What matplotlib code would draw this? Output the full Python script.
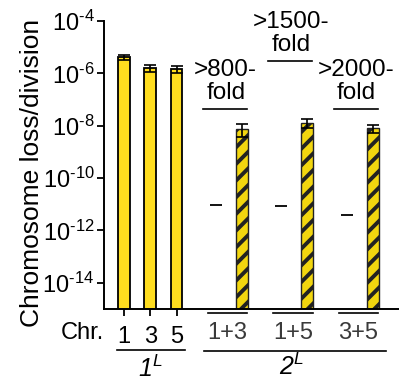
import matplotlib
matplotlib.use("Agg")
import matplotlib.pyplot as plt
import matplotlib.transforms as mtransforms
from matplotlib.lines import Line2D
import numpy as np

plt.rcParams['font.family'] = ['Liberation Sans', 'DejaVu Sans']
plt.rcParams['mathtext.fontset'] = 'custom'
plt.rcParams['mathtext.rm'] = 'Liberation Sans'
plt.rcParams['mathtext.it'] = 'Liberation Sans:italic'
plt.rcParams['mathtext.sf'] = 'Liberation Sans:italic'
plt.rcParams['hatch.linewidth'] = 2.8
plt.rcParams['hatch.color'] = 'black'

# ---- data ----
chr1_labels = ['1', '3', '5']
chr1_values = [4.1e-6, 1.55e-6, 1.45e-6]
chr1_err = [0.9e-6, 0.45e-6, 0.45e-6]

pair_labels = ['1+3', '1+5', '3+5']
pair_bound = [9.5e-12, 8.7e-12, 4.0e-12]          # dash marks (upper bound)
pair_values = [7.6e-9, 1.29e-8, 8.0e-9]
pair_err = [3.8e-9, 4.5e-9, 2.7e-9]
fold_labels = ['>800-\nfold', '>1500-\nfold', '>2000-\nfold']

ytick_exps = [-4, -6, -8, -10, -12, -14]

# ---- layout ----
W, H = 399, 383
fig = plt.figure(figsize=(W / 100, H / 100), dpi=100)
ax = fig.add_axes([104 / W, 1 - 309 / H, 1 - 104 / W, (309 - 21) / H])

x1 = np.arange(len(chr1_values))
pair_c = np.array([4.0, 6.5, 9.0])
x_dash = pair_c - 0.5
x_hatch = pair_c + 0.5

base = 1e-16
ax.set_yscale('log')
ax.bar(x1, np.array(chr1_values) - base, bottom=base, width=0.45,
       color='#FFDD1F', edgecolor='black', linewidth=1.3, zorder=2)
ax.errorbar(x1, chr1_values, yerr=chr1_err, fmt='none', ecolor='black',
            elinewidth=1.2, capsize=4, capthick=1.2, zorder=3)

ax.bar(x_hatch, np.array(pair_values) - base, bottom=base, width=0.45,
       color='#F2D60F', edgecolor='#222222', linewidth=1.0, hatch='//', zorder=2)
ax.errorbar(x_hatch, pair_values, yerr=pair_err, fmt='none', ecolor='black',
            elinewidth=1.2, capsize=4, capthick=1.2, zorder=3)

ax.plot(x_dash, pair_bound, linestyle='none', marker='_', markersize=9,
        mew=1.3, color='black', zorder=3)

ax.set_xlim(-0.77, 10.5)
ax.set_ylim(1e-15, 1e-4)
ax.set_yticks([10.0 ** e for e in ytick_exps])
ax.set_yticklabels(['$\\mathregular{10^{\u2010%d}}$' % (-e) for e in ytick_exps], fontsize=17)
ax.yaxis.set_minor_locator(matplotlib.ticker.NullLocator())
ax.tick_params(axis='y', direction='out', length=5, width=1.3, pad=2)

ax.set_xticks(x1)
ax.set_xticklabels(chr1_labels, fontsize=17)
ax.tick_params(axis='x', direction='out', length=5, width=1.3, pad=7)

for s in ['top', 'right']:
    ax.spines[s].set_visible(False)
for s in ['left', 'bottom']:
    ax.spines[s].set_linewidth(1.4)

ax.set_ylabel('Chromosome loss/division', fontsize=19)
ax.yaxis.set_label_coords(-0.205, 0.472)

tr = mtransforms.blended_transform_factory(ax.transData, fig.transFigure)

def fy(px):
    return 1 - px / H

# Bottom labels
ax.text(-1.58, fy(333), 'Chr.', transform=tr, ha='center', va='center', fontsize=17)
fig.add_artist(Line2D([-0.27, 2.31], [fy(350), fy(350)], transform=tr, color='black', lw=1.2))
ax.text(1.0, fy(369), r'$\mathsf{1^{L}}$', transform=tr, ha='center', va='center', fontsize=18)

for c, lab in zip(pair_c, pair_labels):
    fig.add_artist(Line2D([c - 0.8, c + 0.7], [fy(313), fy(313)], transform=tr,
                          color='black', lw=1.2))
    ax.text(c - 0.05, fy(333), lab, transform=tr, ha='center', va='center',
            fontsize=17, color='#3a3a3a')
fig.add_artist(Line2D([3.04, 10.0], [fy(351), fy(351)], transform=tr, color='black', lw=1.2))
ax.text(6.38, fy(367), r'$\mathsf{2^{L}}$', transform=tr, ha='center', va='center', fontsize=18)

# Fold annotations
fold_y = [(70, 93, 109), (22, 45, 61), (70, 93, 109)]
for c, lab, (ya, yb, yl) in zip(pair_c, fold_labels, fold_y):
    l1, l2 = lab.split('\n')
    ax.text(c - 0.12, fy(ya), l1, transform=tr, ha='center', va='center', fontsize=17.5)
    ax.text(c - 0.12, fy(yb), l2, transform=tr, ha='center', va='center', fontsize=17.5)
    fig.add_artist(Line2D([c - 1.0, c + 0.69], [fy(yl), fy(yl)], transform=tr,
                          color='black', lw=1.2))

fig.savefig('out.png', dpi=100)
